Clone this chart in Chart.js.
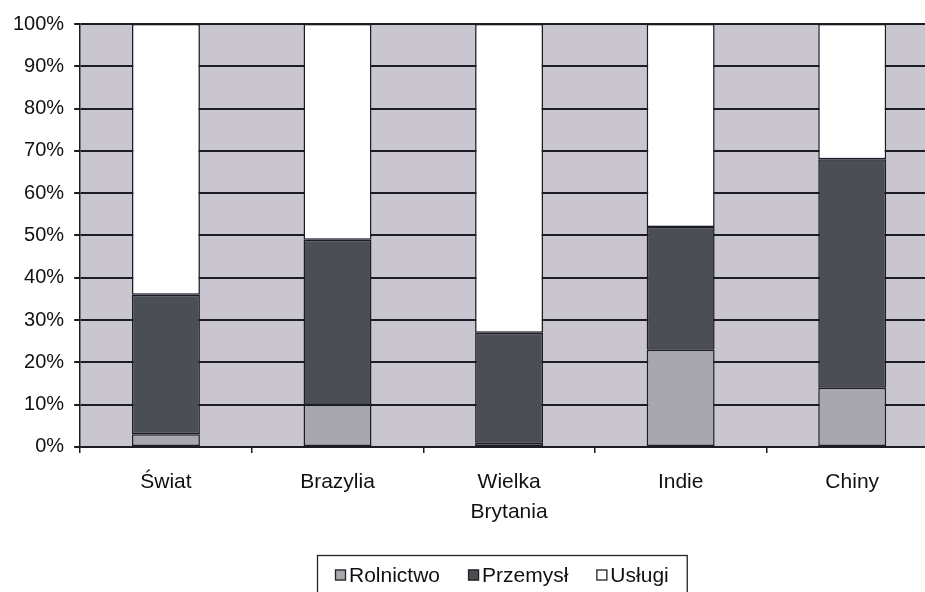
<!DOCTYPE html>
<html>
<head>
<meta charset="utf-8">
<script src="https://cdn.jsdelivr.net/npm/chart.js@4/dist/chart.umd.min.js"></script>
<style>
html,body{margin:0;padding:0;background:#fff;overflow:hidden;width:925px;height:592px;}
#wrap{position:absolute;left:0;top:0;width:972px;height:592px;}
</style>
</head>
<body>
<div id="wrap"><canvas id="c" width="972" height="592"></canvas></div>
<script>
const categories = ["Świat", "Brazylia", ["Wielka", "Brytania"], "Indie", "Chiny"];
const rolnictwo = [3, 10, 1, 23, 14];
const przemysl = [33, 39, 26, 29, 54];
const uslugi = [64, 51, 73, 48, 32];
const yTicks = [0, 10, 20, 30, 40, 50, 60, 70, 80, 90, 100];

const FONT = "'Liberation Sans', Arial, sans-serif";
const DARK = '#1c1c24';

const bgPlugin = {
  id: 'plotBg',
  beforeDraw(chart) {
    const a = chart.chartArea, ctx = chart.ctx;
    ctx.save();
    ctx.fillStyle = '#c9c6cf';
    ctx.fillRect(a.left, a.top, a.right - a.left, a.bottom - a.top);
    ctx.restore();
  }
};

// legend drawn from the datasets (labels + colours)
const legendPlugin = {
  id: 'boxLegend',
  afterDraw(chart) {
    const ctx = chart.ctx;
    const sets = chart.data.datasets;
    ctx.save();
    ctx.font = "21px " + FONT;
    ctx.textBaseline = 'middle';
    const startX = 335, cy = 575, sq = 11, textGap = 3, itemGap = 28;
    let x = startX;
    sets.forEach(d => {
      ctx.fillStyle = d.backgroundColor;
      ctx.fillRect(x, cy - sq / 2, sq, sq);
      ctx.strokeStyle = '#222';
      ctx.lineWidth = 1.3;
      ctx.strokeRect(x + 0.5, cy - sq / 2 + 0.5, sq - 1, sq - 1);
      ctx.fillStyle = '#111';
      ctx.textAlign = 'left';
      const tx = x + sq + textGap;
      ctx.fillText(d.label, tx, cy + 1);
      x = tx + ctx.measureText(d.label).width + itemGap;
    });
    const right = x - itemGap + 18;
    ctx.strokeStyle = '#222';
    ctx.lineWidth = 1.3;
    ctx.strokeRect(317.5, 555.5, right - 317, 50);
    ctx.restore();
  }
};

const ds = (label, data, color) => ({
  label, data, backgroundColor: color, borderColor: DARK, borderWidth: 1.5, borderSkipped: false,
  categoryPercentage: 1, barPercentage: 0.396
});

new Chart(document.getElementById('c'), {
  type: 'bar',
  data: {
    labels: categories,
    datasets: [
      ds('Rolnictwo', rolnictwo, '#a9a7ae'),
      ds('Przemysł', przemysl, '#4b4e54'),
      ds('Usługi', uslugi, '#ffffff')
    ]
  },
  options: {
    responsive: false,
    animation: false,
    devicePixelRatio: 1,
    layout: { padding: { top: 24, right: 34, left: 3, bottom: 51 } },
    plugins: {
      tooltip: { enabled: false },
      legend: { display: false }
    },
    scales: {
      x: {
        stacked: true,
        grid: { display: true, drawOnChartArea: false, drawTicks: true, tickLength: 6, color: DARK, lineWidth: 1.5, offset: true },
        border: { display: true, color: DARK, width: 1.5 },
        ticks: { font: { family: FONT, size: 21, lineHeight: 1.43 }, color: '#111', maxRotation: 0, autoSkip: false, padding: 14 }
      },
      y: {
        stacked: true,
        min: 0, max: 100,
        afterBuildTicks(axis) { axis.ticks = yTicks.map(v => ({ value: v })); },
        grid: { color: DARK, lineWidth: 2, tickLength: 6 },
        border: { display: true, color: DARK, width: 1.5 },
        ticks: { font: { family: FONT, size: 20 }, color: '#111', padding: 10, callback: v => v + '%' }
      }
    }
  },
  plugins: [bgPlugin, legendPlugin]
});
</script>
</body>
</html>
